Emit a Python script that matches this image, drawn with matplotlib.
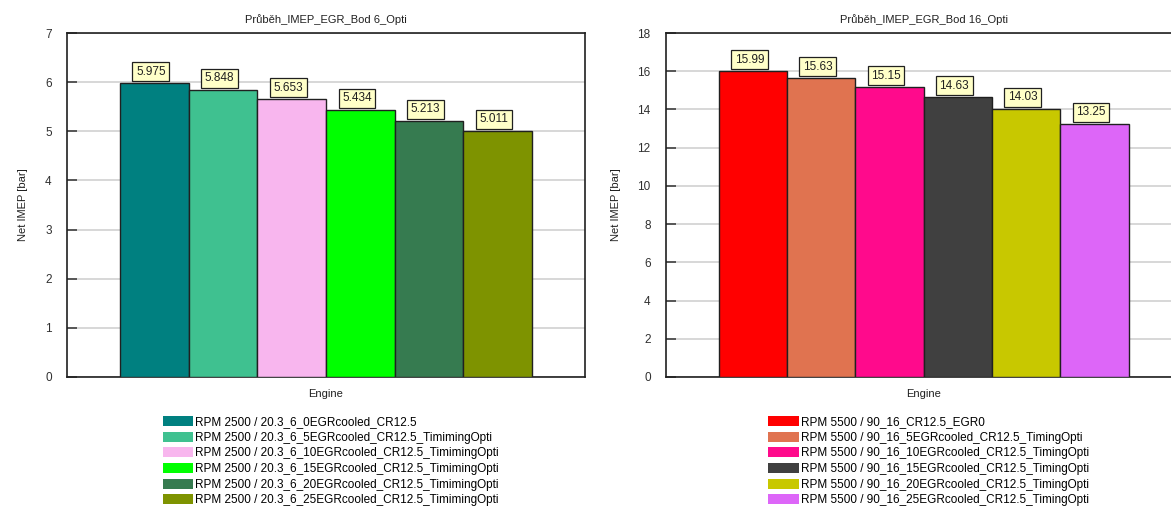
import matplotlib.pyplot as plt
from matplotlib.patches import Patch

plt.rcParams['font.family'] = ['Liberation Sans', 'DejaVu Sans']

# levy graf - bod 6
labels_6 = [
    'RPM 2500 / 20.3_6_0EGRcooled_CR12.5',
    'RPM 2500 / 20.3_6_5EGRcooled_CR12.5_TimimingOpti',
    'RPM 2500 / 20.3_6_10EGRcooled_CR12.5_TimimingOpti',
    'RPM 2500 / 20.3_6_15EGRcooled_CR12.5_TimimingOpti',
    'RPM 2500 / 20.3_6_20EGRcooled_CR12.5_TimimingOpti',
    'RPM 2500 / 20.3_6_25EGRcooled_CR12.5_TimimingOpti',
]
imep_6 = [5.975, 5.848, 5.653, 5.434, 5.213, 5.011]
text_6 = ['5.975', '5.848', '5.653', '5.434', '5.213', '5.011']
colors_6 = ['#008080', '#3FC190', '#F8B6EE', '#00FF00', '#367B50', '#7E9300']

# pravy graf - bod 16
labels_16 = [
    'RPM 5500 / 90_16_CR12.5_EGR0',
    'RPM 5500 / 90_16_5EGRcooled_CR12.5_TimingOpti',
    'RPM 5500 / 90_16_10EGRcooled_CR12.5_TimingOpti',
    'RPM 5500 / 90_16_15EGRcooled_CR12.5_TimingOpti',
    'RPM 5500 / 90_16_20EGRcooled_CR12.5_TimingOpti',
    'RPM 5500 / 90_16_25EGRcooled_CR12.5_TimingOpti',
]
imep_16 = [15.99, 15.63, 15.15, 14.63, 14.03, 13.25]
text_16 = ['15.99', '15.63', '15.15', '14.63', '14.03', '13.25']
colors_16 = ['#FF0000', '#E07350', '#FF0A8C', '#404040', '#C8C800', '#DD66F8']

fig = plt.figure(figsize=(11.71, 5.08), dpi=100)
ax1 = fig.add_axes([0.0572, 0.258, 0.4424, 0.677])
ax2 = fig.add_axes([0.5687, 0.258, 0.4400, 0.677])


def draw(ax, vals, txt, cols, labs, title, ymax, ystep, leg_x):
    x = list(range(len(vals)))
    ax.bar(x, vals, width=1.0, color=cols, edgecolor='#202020', linewidth=1.0, zorder=3)
    ax.set_xlim(-1.27, len(vals) - 0.5 + 0.77)
    ax.set_ylim(0, ymax)
    ax.set_yticks(range(0, ymax + 1, ystep))
    ax.set_xticks([])
    ax.yaxis.grid(True, color='#D4D4D4', linewidth=1.3, zorder=0)
    ax.tick_params(axis='y', direction='in', length=7, width=1.2, color='#404040',
                   labelsize=8.5, pad=11, labelcolor='#303030')
    for s in ax.spines.values():
        s.set_linewidth(1.2)
        s.set_color('#202020')
    ax.set_title(title, fontsize=8, pad=7, color='#202020')
    ax.set_xlabel('Engine', fontsize=8, labelpad=9, color='#202020')
    ax.set_ylabel('Net IMEP [bar]', fontsize=8, labelpad=12, color='#202020')
    for xi, v, t in zip(x, vals, txt):
        ax.annotate(t, (xi - 0.05, v), xytext=(0, 4), textcoords='offset points',
                    ha='center', va='bottom', fontsize=8.5, color='#202020', zorder=5,
                    bbox=dict(boxstyle='square,pad=0.3', fc='#FFFFC8', ec='#202020', lw=0.9))
    handles = [Patch(facecolor=c, edgecolor='none') for c in cols]
    fig.legend(handles, labs, loc='upper left', bbox_to_anchor=(leg_x, 0.181),
               frameon=False, fontsize=8.5, handlelength=2.6, handleheight=0.9,
               handletextpad=0.15, labelspacing=0.31, borderaxespad=0, borderpad=0)


draw(ax1, imep_6, text_6, colors_6, labels_6, 'Průběh_IMEP_EGR_Bod 6_Opti', 7, 1, 0.139)
draw(ax2, imep_16, text_16, colors_16, labels_16, 'Průběh_IMEP_EGR_Bod 16_Opti', 18, 2, 0.656)

fig.savefig('out.png', dpi=100)
